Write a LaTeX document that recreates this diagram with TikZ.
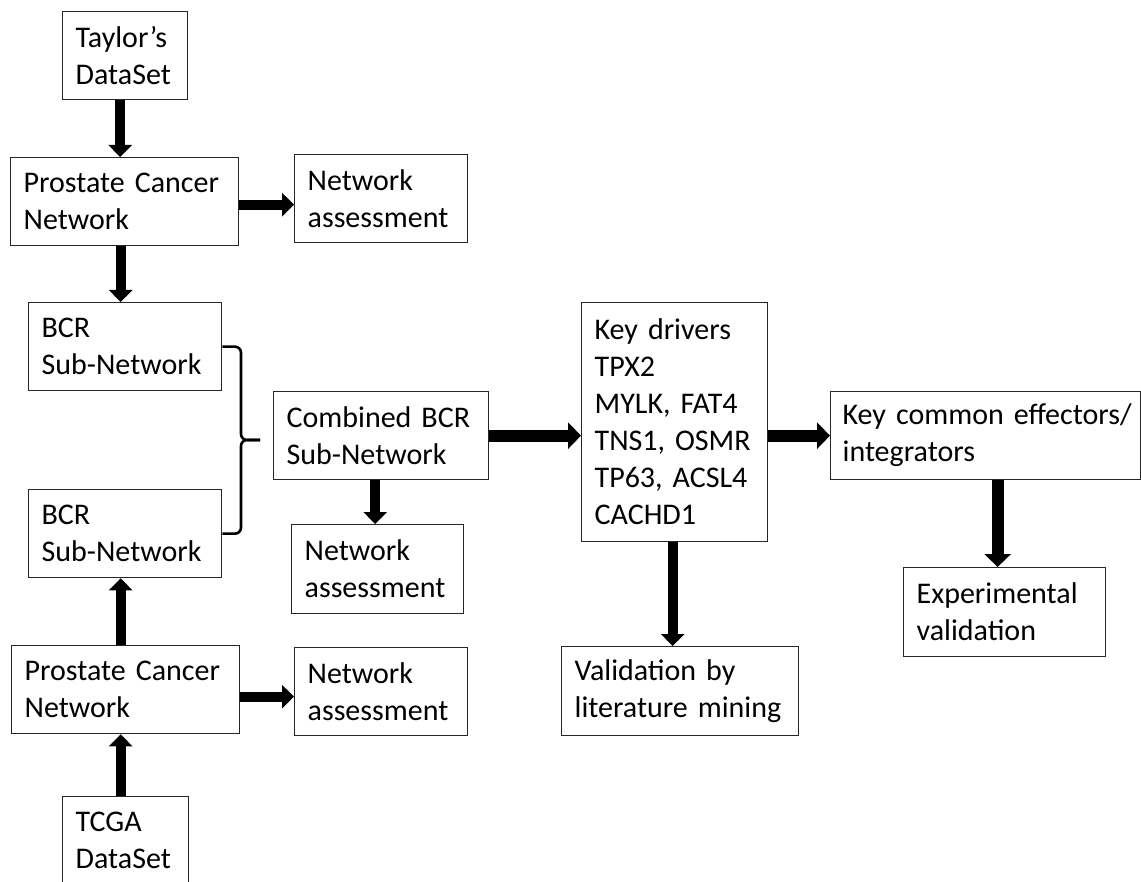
\documentclass[tikz,border=0pt]{standalone}
\usepackage{fontspec}
\setmainfont{Carlito}[WordSpace={0.75,0.5,0.5}]
\usetikzlibrary{arrows.meta,calc}
\newcommand{\bxfont}{\fontsize{30}{37}\selectfont}
\tikzset{
  box/.style={draw=black!85, line width=1.3pt, anchor=north west, align=left,
    inner xsep=13pt, inner ysep=0pt, font=\bxfont},
  arr/.style={line width=10pt, -{Triangle[width=23pt,length=12pt]}},
  arrb/.style={line width=12pt, -{Triangle[width=26pt,length=13pt]}},
  bracestyle/.style={line width=2.6pt, rounded corners=6pt}
}
\begin{document}
\begin{tikzpicture}[x=1pt,y=-1pt]
\useasboundingbox (0,0) rectangle (1141,882);
\clip (0,0) rectangle (1141,882);
% boxes
\node[box, text width=99pt,  minimum height=88pt] (taylor) at (62,11) {Taylor’s\\DataSet};
\node[box, text width=202pt, minimum height=88pt] (pcn1) at (10,157) {Prostate Cancer\\Network};
\node[box, text width=147pt, minimum height=88pt] (na1) at (294,154) {Network\\assessment};
\node[box, text width=167pt, minimum height=88pt] (bcr1) at (28,302) {BCR\\Sub-Network};
\node[box, text width=167pt, minimum height=88pt] (bcr2) at (28,489) {BCR\\Sub-Network};
\node[box, text width=189pt, minimum height=88pt] (comb) at (273,391) {Combined BCR\\Sub-Network};
\node[box, text width=146pt, minimum height=89pt] (na2) at (291,524) {Network\\assessment};
\node[box, text width=160pt, minimum height=239pt] (kd) at (581,302) {Key drivers\\TPX2\\MYLK, FAT4\\TNS1, OSMR\\TP63, ACSL4\\CACHD1};
\node[box, inner xsep=12pt, text width=286pt, minimum height=88pt] (kce) at (830,391) {\mbox{Key common effectors/}\\integrators};
\node[box, text width=176pt, minimum height=89pt] (exp) at (903,567) {Experimental\\validation};
\node[box, text width=211pt, minimum height=89pt] (lit) at (561,646) {Validation by\\literature mining};
\node[box, text width=202pt, minimum height=88pt] (pcn2) at (11,645) {Prostate Cancer\\Network};
\node[box, text width=147pt, minimum height=88pt] (na3) at (294,647) {Network\\assessment};
\node[box, text width=100pt, minimum height=88pt] (tcga) at (62,796) {TCGA\\DataSet};
% arrows
\draw[arr] ([xshift=-5pt]taylor.south) -- ([xshift=-5pt]taylor.south |- pcn1.north);
\draw[arr] ([xshift=-4pt]pcn1.south) -- ([xshift=-4pt]pcn1.south |- bcr1.north);
\draw[arr] ([yshift=-3pt]pcn1.east) -- ([yshift=-3pt]pcn1.east -| na1.west);
\draw[arr] ([xshift=-5pt]pcn2.north) -- ([xshift=-5pt]pcn2.north |- bcr2.south);
\draw[arr] ([xshift=-5pt]tcga.north) -- ([xshift=-5pt]tcga.north |- pcn2.south);
\draw[arr] ([yshift=-7pt]pcn2.east) -- ([yshift=-7pt]pcn2.east -| na3.west);
\draw[arr] ([xshift=-6pt]comb.south) -- ([xshift=-6pt]comb.south |- na2.north);
\draw[arrb] (comb.east) -- (comb.east -| kd.west);
\draw[arrb] (kce.west -| kd.east) -- (kce.west);
\draw[arr] ([xshift=-2pt]kd.south) -- ([xshift=-2pt]kd.south |- lit.north);
\draw[arrb] ([xshift=-7pt]exp.north |- kce.south) -- ([xshift=-7pt]exp.north);
% brace
\coordinate (bmid) at (241,440);
\coordinate (btip) at (260,440);
\draw[bracestyle] (bcr1.east) -| (bmid) -- (btip);
\draw[bracestyle] (bcr2.east) -| (bmid) -- (btip);
\end{tikzpicture}
\end{document}
